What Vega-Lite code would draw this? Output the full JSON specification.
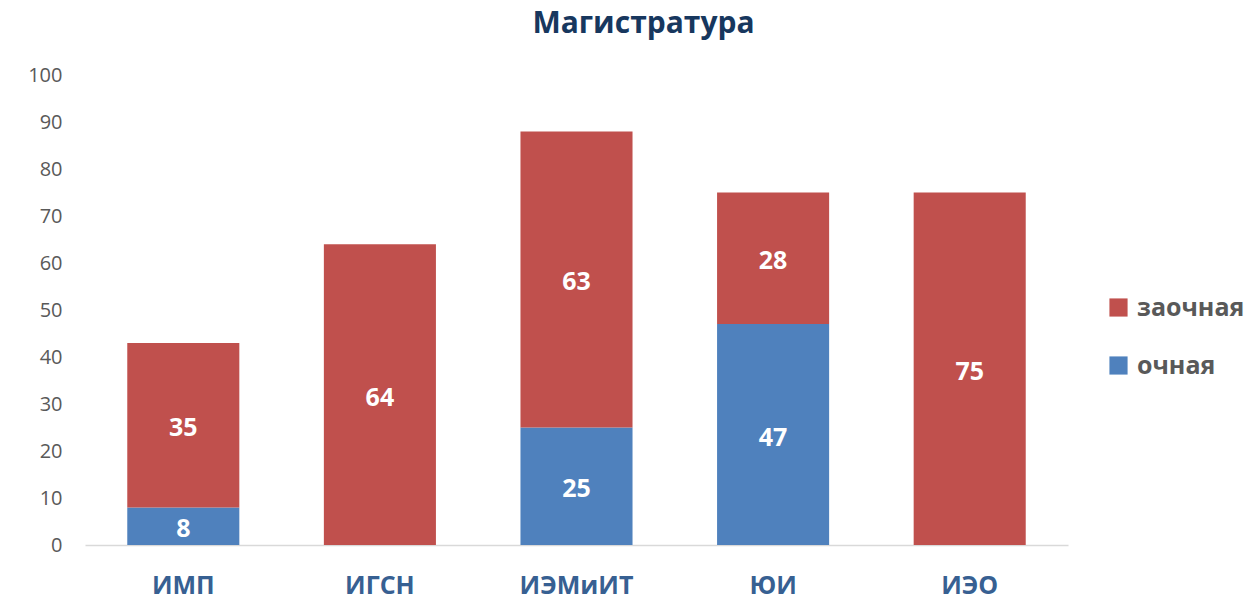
{
  "$schema": "https://vega.github.io/schema/vega-lite/v6.json",
  "autosize": {"type": "none"},
  "width": 983,
  "height": 470,
  "padding": {"left": 85, "top": 75, "right": 188, "bottom": 70},
  "background": "white",
  "config": {"view": {"stroke": null}, "font": "Open Sans"},
  "title": {
    "text": "Магистратура",
    "fontSize": 30,
    "fontWeight": "bold",
    "color": "#17375E",
    "font": "Open Sans",
    "anchor": "middle",
    "dx": 67,
    "offset": 26
  },
  "data": {
    "values": [
      {"inst": "ИМП", "form": "очная", "value": 8},
      {"inst": "ИМП", "form": "заочная", "value": 35},
      {"inst": "ИГСН", "form": "заочная", "value": 64},
      {"inst": "ИЭМиИТ", "form": "очная", "value": 25},
      {"inst": "ИЭМиИТ", "form": "заочная", "value": 63},
      {"inst": "ЮИ", "form": "очная", "value": 47},
      {"inst": "ЮИ", "form": "заочная", "value": 28},
      {"inst": "ИЭО", "form": "заочная", "value": 75}
    ]
  },
  "transform": [
    {"stack": "value", "groupby": ["inst"], "sort": [{"field": "form", "order": "descending"}], "as": ["y0", "y1"]},
    {"calculate": "(datum.y0 + datum.y1) / 2", "as": "ymid"}
  ],
  "encoding": {
    "x": {
      "field": "inst",
      "type": "nominal",
      "sort": ["ИМП", "ИГСН", "ИЭМиИТ", "ЮИ", "ИЭО"],
      "scale": {"paddingInner": 0.43, "paddingOuter": 0.215},
      "axis": {
        "title": null,
        "labelAngle": 0,
        "labelFontSize": 25,
        "labelFontWeight": "bold",
        "labelColor": "#376092",
        "labelFont": "Open Sans",
        "labelPadding": 28,
        "ticks": false,
        "domainColor": "#D9D9D9",
        "domainWidth": 1.5
      }
    }
  },
  "layer": [
    {
      "mark": {"type": "bar"},
      "encoding": {
        "y": {
          "field": "y0",
          "type": "quantitative",
          "scale": {"domain": [0, 100], "nice": false},
          "axis": {
            "title": null,
            "values": [0, 10, 20, 30, 40, 50, 60, 70, 80, 90, 100],
            "grid": false,
            "domain": false,
            "ticks": false,
            "labelFontSize": 20,
            "labelColor": "#595959",
            "labelFont": "Open Sans",
            "labelPadding": 23
          }
        },
        "y2": {"field": "y1"},
        "color": {
          "field": "form",
          "type": "nominal",
          "scale": {"domain": ["заочная", "очная"], "range": ["#C0504D", "#4F81BD"]},
          "legend": {
            "title": null,
            "orient": "none",
            "legendX": 1021,
            "legendY": 220,
            "symbolType": "square",
            "symbolSize": 330,
            "symbolStrokeWidth": 0,
            "labelFontSize": 25,
            "labelFontWeight": "bold",
            "labelColor": "#595959",
            "labelFont": "Open Sans",
            "rowPadding": 32,
            "labelOffset": 6
          }
        }
      }
    },
    {
      "mark": {"type": "text", "fontSize": 25, "fontWeight": "bold", "color": "white", "font": "Open Sans", "baseline": "middle", "dy": 3},
      "encoding": {
        "y": {"field": "ymid", "type": "quantitative"},
        "text": {"field": "value", "type": "quantitative"}
      }
    }
  ]
}
